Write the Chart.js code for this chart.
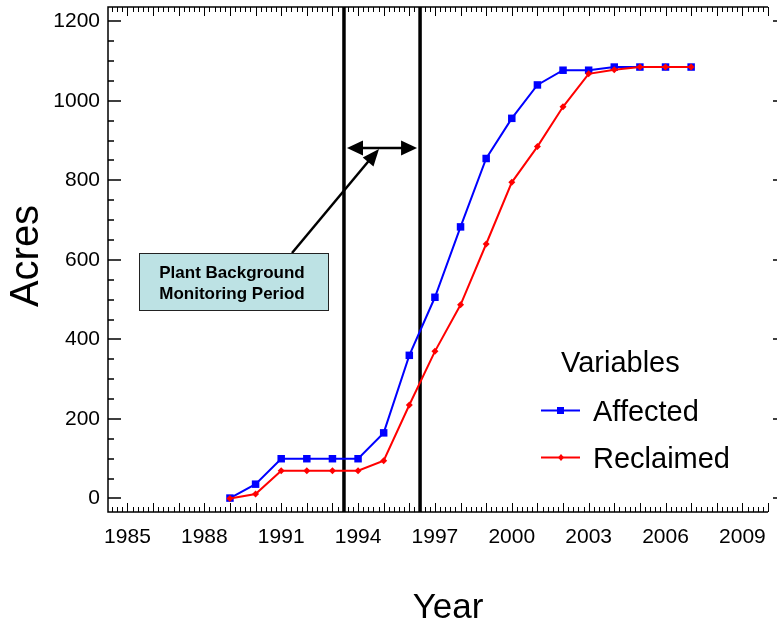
<!DOCTYPE html>
<html>
<head>
<meta charset="utf-8">
<script src="https://cdn.jsdelivr.net/npm/chart.js@4/dist/chart.umd.min.js"></script>
<style>
  body { margin: 0; background: #fff; }
  #wrap { width: 777px; height: 625px; }
</style>
</head>
<body>
<div id="wrap"><canvas id="chart" width="777" height="625"></canvas></div>
<script>
// data
var years = [1989, 1990, 1991, 1992, 1993, 1994, 1995, 1996, 1997, 1998,
             1999, 2000, 2001, 2002, 2003, 2004, 2005, 2006, 2007];
var affected = [1, 36, 100, 100, 100, 100, 165, 360, 506, 683,
                855, 956, 1040, 1077, 1077, 1085, 1085, 1085, 1085];
var reclaimed = [0, 11, 70, 70, 70, 70, 95, 235, 370, 487,
                 640, 795, 885, 985, 1068, 1078, 1085, 1085, 1085];
var xTicks = [1985, 1988, 1991, 1994, 1997, 2000, 2003, 2006, 2009];
var yTicks = [0, 200, 400, 600, 800, 1000, 1200];
// monitoring period bounds (vertical bars)
var periodLines = [1993.45, 1996.42];

var FONT = '"Liberation Sans", Arial, sans-serif';

function toPoints(xs, ys) {
  return xs.map(function (x, i) { return {x: x, y: ys[i]}; });
}

function arrowHead(ctx, x1, y1, x2, y2, len, half) {
  // filled triangle with tip at x2,y2
  var a = Math.atan2(y2 - y1, x2 - x1);
  ctx.beginPath();
  ctx.moveTo(x2, y2);
  ctx.lineTo(x2 - len * Math.cos(a) + half * Math.sin(a), y2 - len * Math.sin(a) - half * Math.cos(a));
  ctx.lineTo(x2 - len * Math.cos(a) - half * Math.sin(a), y2 - len * Math.sin(a) + half * Math.cos(a));
  ctx.closePath();
  ctx.fill();
}

function noPad(s) {
  s.paddingTop = 0; s.paddingBottom = 0; s.paddingLeft = 0; s.paddingRight = 0;
}

var decor = {
  id: 'decor',
  beforeDatasetsDraw: function (chart) {
    var ctx = chart.ctx, a = chart.chartArea;
    var xs = chart.scales.x, ys = chart.scales.y;
    ctx.save();
    ctx.strokeStyle = '#000';
    // frame
    ctx.lineWidth = 1.5;
    ctx.beginPath();
    ctx.moveTo(a.right, a.top); ctx.lineTo(a.left, a.top);
    ctx.lineTo(a.left, a.bottom); ctx.lineTo(a.right, a.bottom);
    ctx.stroke();
    // x ticks, inward, top and bottom
    ctx.lineWidth = 1;
    ctx.beginPath();
    for (var k = 0; k <= 130; k++) {
      var v = 1984.4 + k * 0.2;
      if (v > xs.max) break;
      var px = Math.round(xs.getPixelForValue(v)) + 0.5;
      var major = Math.abs(v - Math.round(v)) < 0.01;
      var lt = major ? 9 : 5;
      ctx.moveTo(px, a.top); ctx.lineTo(px, a.top + lt);
      ctx.moveTo(px, a.bottom); ctx.lineTo(px, a.bottom - lt);
    }
    ctx.stroke();
    // y ticks, left (inward) and right stubs
    ctx.lineWidth = 1.5;
    ctx.beginPath();
    for (var val = 0; val <= 1200; val += 50) {
      var py = Math.round(ys.getPixelForValue(val));
      var big = val % 200 === 0;
      ctx.moveTo(a.left, py); ctx.lineTo(a.left + (big ? 13 : 6), py);
      if (big) { ctx.moveTo(773, py); ctx.lineTo(777, py); }
    }
    ctx.stroke();
    // monitoring period bars
    ctx.lineWidth = 3.5;
    ctx.beginPath();
    periodLines.forEach(function (v) {
      var px = xs.getPixelForValue(v);
      ctx.moveTo(px, a.top); ctx.lineTo(px, a.bottom);
    });
    ctx.stroke();
    ctx.restore();
  },
  afterDraw: function (chart) {
    var ctx = chart.ctx;
    var xs = chart.scales.x;
    ctx.save();
    ctx.fillStyle = '#000';
    ctx.strokeStyle = '#000';
    // double arrow between the bars
    var l = xs.getPixelForValue(periodLines[0]) + 3;
    var r = xs.getPixelForValue(periodLines[1]) - 3;
    var ay = 148;
    ctx.lineWidth = 2.5;
    ctx.beginPath(); ctx.moveTo(l + 10, ay); ctx.lineTo(r - 10, ay); ctx.stroke();
    arrowHead(ctx, r, ay, l, ay, 16, 7.5);
    arrowHead(ctx, l, ay, r, ay, 16, 7.5);
    // pointer from the label box
    ctx.lineWidth = 2.5;
    ctx.beginPath(); ctx.moveTo(292, 253); ctx.lineTo(372, 157); ctx.stroke();
    arrowHead(ctx, 292, 253, 379, 149, 17, 7);
    // label box
    ctx.fillStyle = '#bde2e4';
    ctx.fillRect(139, 253, 190, 58);
    ctx.lineWidth = 1;
    ctx.strokeStyle = '#222';
    ctx.strokeRect(139.5, 253.5, 189, 57);
    ctx.fillStyle = '#000';
    ctx.font = 'bold 17px ' + FONT;
    ctx.textAlign = 'center';
    ctx.textBaseline = 'alphabetic';
    ctx.fillText('Plant Background', 232, 278);
    ctx.fillText('Monitoring Period', 232, 299);
    // legend
    ctx.textAlign = 'left';
    ctx.font = '29px ' + FONT;
    ctx.fillText('Variables', 561, 372);
    ctx.fillText('Affected', 593, 421);
    ctx.fillText('Reclaimed', 593, 468);
    ctx.lineWidth = 2;
    ctx.strokeStyle = '#0000ff';
    ctx.beginPath(); ctx.moveTo(541, 410.5); ctx.lineTo(580, 410.5); ctx.stroke();
    ctx.fillStyle = '#0000ff';
    ctx.fillRect(557, 407, 7, 7);
    ctx.strokeStyle = '#ff0000';
    ctx.beginPath(); ctx.moveTo(541, 457.5); ctx.lineTo(580, 457.5); ctx.stroke();
    ctx.fillStyle = '#ff0000';
    ctx.beginPath();
    ctx.moveTo(561, 454); ctx.lineTo(564, 457.5); ctx.lineTo(561, 461); ctx.lineTo(558, 457.5);
    ctx.closePath(); ctx.fill();
    // axis titles
    ctx.fillStyle = '#000';
    ctx.textAlign = 'center';
    ctx.textBaseline = 'middle';
    ctx.font = '35px ' + FONT;
    ctx.fillText('Year', 448, 608);
    ctx.translate(27, 256);
    ctx.rotate(-Math.PI / 2);
    ctx.font = '40px ' + FONT;
    ctx.fillText('Acres', 0, 0);
    ctx.restore();
  }
};

new Chart(document.getElementById('chart'), {
  type: 'line',
  data: {
    datasets: [{
      label: 'Affected',
      data: toPoints(years, affected),
      borderColor: '#0000ff',
      backgroundColor: '#0000ff',
      borderWidth: 2,
      pointStyle: 'rect',
      pointRadius: 5.3,
      pointBorderWidth: 0,
      order: 2
    }, {
      label: 'Reclaimed',
      data: toPoints(years, reclaimed),
      borderColor: '#ff0000',
      backgroundColor: '#ff0000',
      borderWidth: 2,
      pointStyle: 'rectRot',
      pointRadius: 3.5,
      pointBorderWidth: 0,
      order: 1
    }]
  },
  options: {
    responsive: false,
    animation: false,
    layout: {padding: {top: 7, right: 9, left: 0, bottom: 0}},
    plugins: {legend: {display: false}, tooltip: {enabled: false}},
    scales: {
      x: {
        type: 'linear',
        min: 1984.24,
        max: 2010,
        grid: {display: false, drawTicks: false},
        border: {display: false},
        afterBuildTicks: function (s) { s.ticks = xTicks.map(function (v) { return {value: v}; }); },
        afterFit: function (s) { s.height = 113; noPad(s); },
        ticks: {
          color: '#000',
          font: {family: FONT, size: 21},
          padding: 13,
          maxRotation: 0,
          callback: function (v) { return String(v); }
        }
      },
      y: {
        min: -34,
        max: 1236,
        grid: {display: false, drawTicks: false},
        border: {display: false},
        afterBuildTicks: function (s) { s.ticks = yTicks.map(function (v) { return {value: v}; }); },
        afterFit: function (s) { s.width = 108; noPad(s); },
        ticks: {
          color: '#000',
          font: {family: FONT, size: 21},
          padding: 8,
          callback: function (v) { return String(v); }
        }
      }
    }
  },
  plugins: [decor]
});
</script>
</body>
</html>
